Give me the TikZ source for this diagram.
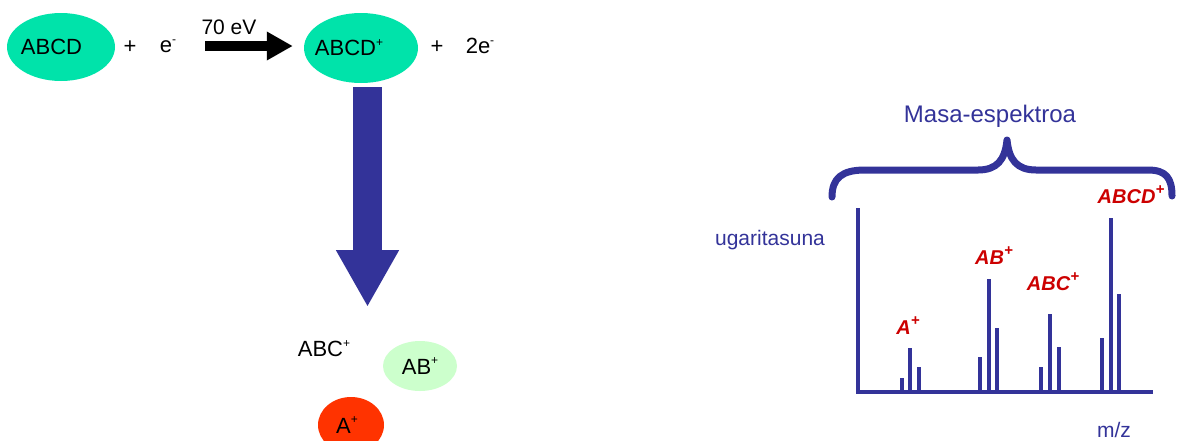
\documentclass[tikz,border=0pt]{standalone}
\usepackage{fontspec}
\setmainfont{Liberation Sans}
\usetikzlibrary{shapes.geometric,arrows.meta}
\definecolor{mblue}{HTML}{333399}
\definecolor{mred}{HTML}{CC0000}
\definecolor{mgreen}{HTML}{00E3AA}
\definecolor{lgreen}{HTML}{CCFFCC}
\definecolor{ored}{HTML}{FF3300}
\newcommand\mysup[1]{\raisebox{0.42em}{\fontsize{12}{12}\selectfont #1}}
\newcommand\redsup[1]{\raisebox{0.45em}{\fontsize{15}{15}\selectfont #1}}
\newcommand\shifted[2]{\makebox[0pt]{\kern#1pt #2}}
\begin{document}
\begin{tikzpicture}[x=1pt,y=-1pt,
  txt/.style={font=\fontsize{22}{24}\selectfont, inner sep=0pt, text=black},
  blob/.style={ellipse, inner sep=0pt, font=\fontsize{22}{24}\selectfont},
  lbl/.style={text=mred, font=\fontsize{20}{22}\selectfont\bfseries\itshape, inner sep=0pt},
  bluetxt/.style={text=mblue, inner sep=0pt},
  peak/.style={draw=mblue, line width=4pt},
  brace/.style={draw=mblue, line width=7pt, line cap=round, line join=round},
  axisline/.style={draw=mblue, line width=4pt},
  ]
\useasboundingbox (0,0) rectangle (1177,440);

% reaction
\node[blob, fill=mgreen, minimum width=108pt, minimum height=68pt] (abcd) at (61,47) {\shifted{-19}{ABCD}};
\node[txt] (plus1) at (130,47) {+};
\node[txt] (e1) at (168,46) {e\mysup{-}};
\node[txt, font=\fontsize{21}{22}\selectfont] (ev) at (229,27) {70 eV};
\node[blob, fill=mgreen, minimum width=114pt, minimum height=70pt] (abcdp) at (361,48) {\shifted{-24}{ABCD\mysup{+}}};
\node[txt] (plus2) at (437,47) {+};
\node[txt] (e2) at (480,46) {2e\mysup{-}};
\coordinate (arrA) at (205,46);
\draw[line width=10pt, -{Triangle[length=26pt,width=27pt]}, shorten >=11pt] (arrA) -- (abcdp.west |- arrA);

% fragmentation arrow
\coordinate (bstart) at (367.5,87);
\coordinate (btip) at (367.5,307);
\draw[draw=mblue, line width=29pt, -{Triangle[length=57pt,width=59pt]}] (bstart) -- (btip);

% fragments
\node[txt] (abc) at (324,349) {ABC\mysup{+}};
\node[blob, fill=lgreen, minimum width=74pt, minimum height=50pt] (ab) at (420,366) {AB\mysup{+}};
\node[blob, fill=ored, minimum width=66pt, minimum height=56pt] (a) at (351,425) {\shifted{-8}{A\mysup{+}}};

% spectrum
\node[bluetxt, font=\fontsize{24}{25}\selectfont] (title) at (990,116) {Masa-espektroa};
\draw[brace] (832,197) .. controls (832,178) and (842,170) .. (865,170) -- (978,170)
  .. controls (997,170) and (1005,160) .. (1007,140)
  .. controls (1009,160) and (1017,170) .. (1036,170) -- (1148,170)
  .. controls (1166,170) and (1172,178) .. (1172,196);
\node[bluetxt, font=\fontsize{21}{22}\selectfont] (yl) at (770,240) {ugaritasuna};
\node[bluetxt, font=\fontsize{21}{22}\selectfont] (xl) at (1114,430) {m/z};
\coordinate (ytop) at (858,208);
\coordinate (orig) at (858,392);
\coordinate (xend) at (1153,392);
\draw[axisline] (ytop) -- (orig) -- (xend);
% peaks
\foreach \x/\t in {902/378, 910/348, 919/367, 980/357, 989/279, 997/328,
                   1041/367, 1050/314, 1059/347, 1102/338, 1111/218, 1119/294}
  \draw[peak] (\x,391) -- (\x,\t);
\node[lbl] (la) at (908,326) {A\redsup{+}};
\node[lbl] (lab) at (994,256) {AB\redsup{+}};
\node[lbl] (labc) at (1053,282) {ABC\redsup{+}};
\node[lbl] (labcd) at (1131,195) {ABCD\redsup{+}};
\end{tikzpicture}
\end{document}
